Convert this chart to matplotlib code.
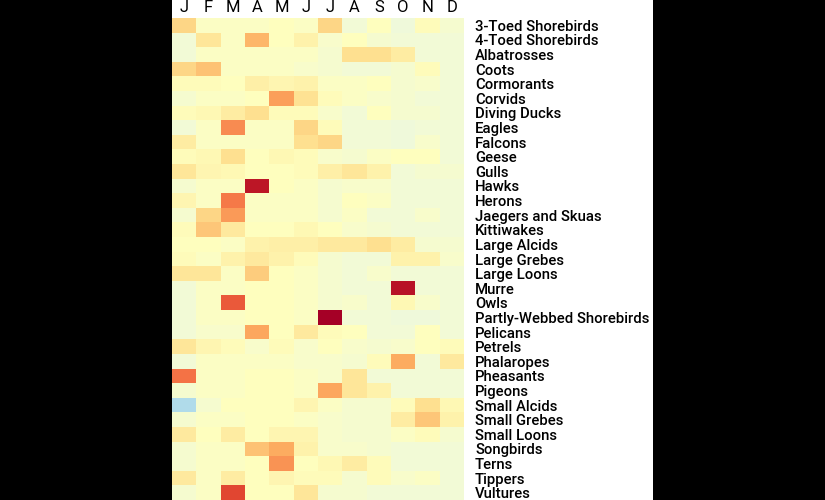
import numpy as np
import matplotlib
matplotlib.use('Agg')
import matplotlib.pyplot as plt
from matplotlib.patches import Rectangle

months = ['J', 'F', 'M', 'A', 'M', 'J', 'J', 'A', 'S', 'O', 'N', 'D']
groups = ['3-Toed Shorebirds', '4-Toed Shorebirds', 'Albatrosses', 'Coots',
          'Cormorants', 'Corvids', 'Diving Ducks', 'Eagles', 'Falcons', 'Geese',
          'Gulls', 'Hawks', 'Herons', 'Jaegers and Skuas', 'Kittiwakes',
          'Large Alcids', 'Large Grebes', 'Large Loons', 'Murre', 'Owls',
          'Partly-Webbed Shorebirds', 'Pelicans', 'Petrels', 'Phalaropes',
          'Pheasants', 'Pigeons', 'Small Alcids', 'Small Grebes', 'Small Loons',
          'Songbirds', 'Terns', 'Tippers', 'Vultures']

# relative intensity per group and month
shorebirds3 = [0.62, 0.49, 0.49, 0.49, 0.50, 0.49, 0.62, 0.46, 0.50, 0.45, 0.51, 0.47]
shorebirds4 = [0.46, 0.58, 0.49, 0.68, 0.50, 0.54, 0.48, 0.50, 0.47, 0.46, 0.46, 0.46]
albatrosses = [0.46, 0.49, 0.49, 0.49, 0.49, 0.49, 0.47, 0.60, 0.60, 0.56, 0.46, 0.46]
coots = [0.62, 0.66, 0.49, 0.49, 0.49, 0.48, 0.47, 0.46, 0.46, 0.47, 0.51, 0.46]
cormorants = [0.51, 0.51, 0.50, 0.55, 0.53, 0.54, 0.49, 0.49, 0.50, 0.47, 0.48, 0.46]
corvids = [0.47, 0.49, 0.49, 0.50, 0.72, 0.59, 0.51, 0.49, 0.48, 0.47, 0.46, 0.46]
diving_ducks = [0.51, 0.52, 0.56, 0.60, 0.51, 0.51, 0.48, 0.46, 0.50, 0.47, 0.47, 0.46]
eagles = [0.46, 0.49, 0.75, 0.49, 0.49, 0.62, 0.51, 0.46, 0.46, 0.45, 0.46, 0.46]
falcons = [0.56, 0.49, 0.49, 0.49, 0.49, 0.60, 0.62, 0.46, 0.46, 0.45, 0.48, 0.46]
geese = [0.51, 0.52, 0.60, 0.50, 0.52, 0.51, 0.48, 0.47, 0.49, 0.50, 0.50, 0.46]
gulls = [0.58, 0.53, 0.52, 0.50, 0.50, 0.51, 0.55, 0.58, 0.54, 0.46, 0.47, 0.47]
hawks = [0.47, 0.49, 0.49, 0.95, 0.50, 0.49, 0.47, 0.48, 0.48, 0.46, 0.46, 0.46]
herons = [0.53, 0.49, 0.78, 0.49, 0.49, 0.49, 0.47, 0.50, 0.49, 0.46, 0.46, 0.46]
jaegers = [0.47, 0.62, 0.73, 0.49, 0.49, 0.49, 0.47, 0.49, 0.46, 0.46, 0.48, 0.46]
kittiwakes = [0.51, 0.65, 0.57, 0.50, 0.50, 0.52, 0.50, 0.48, 0.47, 0.46, 0.46, 0.46]
large_alcids = [0.50, 0.50, 0.49, 0.54, 0.55, 0.55, 0.57, 0.57, 0.60, 0.56, 0.47, 0.47]
large_grebes = [0.51, 0.49, 0.54, 0.57, 0.54, 0.51, 0.47, 0.46, 0.46, 0.54, 0.54, 0.48]
large_loons = [0.58, 0.58, 0.49, 0.64, 0.50, 0.49, 0.47, 0.46, 0.48, 0.46, 0.46, 0.46]
murre = [0.46, 0.49, 0.49, 0.50, 0.50, 0.49, 0.47, 0.46, 0.46, 0.96, 0.46, 0.46]
owls = [0.46, 0.49, 0.83, 0.50, 0.50, 0.49, 0.47, 0.48, 0.46, 0.52, 0.48, 0.46]
partly_webbed = [0.46, 0.49, 0.49, 0.50, 0.50, 0.49, 1.00, 0.46, 0.46, 0.45, 0.45, 0.46]
pelicans = [0.46, 0.48, 0.48, 0.71, 0.50, 0.57, 0.51, 0.50, 0.46, 0.46, 0.50, 0.46]
petrels = [0.58, 0.53, 0.51, 0.48, 0.51, 0.48, 0.50, 0.48, 0.47, 0.48, 0.50, 0.51]
phalaropes = [0.46, 0.49, 0.49, 0.49, 0.49, 0.48, 0.48, 0.47, 0.51, 0.70, 0.46, 0.57]
pheasants = [0.79, 0.49, 0.49, 0.50, 0.50, 0.49, 0.48, 0.58, 0.46, 0.46, 0.46, 0.46]
pigeons = [0.47, 0.49, 0.49, 0.50, 0.50, 0.49, 0.71, 0.58, 0.54, 0.46, 0.46, 0.46]
small_alcids = [0.31, 0.47, 0.50, 0.50, 0.50, 0.53, 0.49, 0.47, 0.47, 0.51, 0.60, 0.52]
small_grebes = [0.47, 0.49, 0.49, 0.50, 0.50, 0.49, 0.48, 0.47, 0.47, 0.56, 0.65, 0.54]
small_loons = [0.57, 0.50, 0.56, 0.50, 0.53, 0.53, 0.48, 0.47, 0.47, 0.49, 0.51, 0.47]
songbirds = [0.47, 0.49, 0.49, 0.66, 0.70, 0.54, 0.48, 0.48, 0.47, 0.46, 0.46, 0.46]
terns = [0.47, 0.49, 0.49, 0.50, 0.74, 0.50, 0.52, 0.56, 0.51, 0.46, 0.46, 0.46]
tippers = [0.57, 0.49, 0.56, 0.50, 0.53, 0.51, 0.51, 0.47, 0.51, 0.48, 0.49, 0.46]
vultures = [0.47, 0.49, 0.86, 0.50, 0.50, 0.58, 0.47, 0.47, 0.46, 0.46, 0.46, 0.46]

grid = np.array([shorebirds3, shorebirds4, albatrosses, coots, cormorants, corvids,
                 diving_ducks, eagles, falcons, geese, gulls, hawks, herons,
                 jaegers, kittiwakes, large_alcids, large_grebes, large_loons,
                 murre, owls, partly_webbed, pelicans, petrels, phalaropes,
                 pheasants, pigeons, small_alcids, small_grebes, small_loons,
                 songbirds, terns, tippers, vultures])

plt.rcParams['font.family'] = ['Roboto', 'DejaVu Sans']

fig = plt.figure(figsize=(8.25, 5), dpi=100, facecolor='black')
# white panel behind the heatmap and labels
panel = Rectangle((172/825, 0), (653-172)/825, 1, transform=fig.transFigure,
                  facecolor='white', edgecolor='none', zorder=-10)
fig.add_artist(panel)

ax = fig.add_axes([172/825, 0, 292/825, 482/500])
ax.set_zorder(1)
ax.imshow(grid, cmap='RdYlBu_r', vmin=0, vmax=1, aspect='auto', interpolation='nearest')

ax.set_xticks(range(len(months)))
ax.set_xticklabels(months, fontsize=12)
ax.xaxis.tick_top()
ax.set_yticks(range(len(groups)))
ax.set_yticklabels(groups, fontsize=10.7, fontweight='medium')
ax.yaxis.tick_right()
ax.tick_params(axis='y', length=0, pad=8)
ax.tick_params(axis='x', length=0, pad=2)
for s in ax.spines.values():
    s.set_visible(False)

plt.savefig('out.png', dpi=100, facecolor='black')
